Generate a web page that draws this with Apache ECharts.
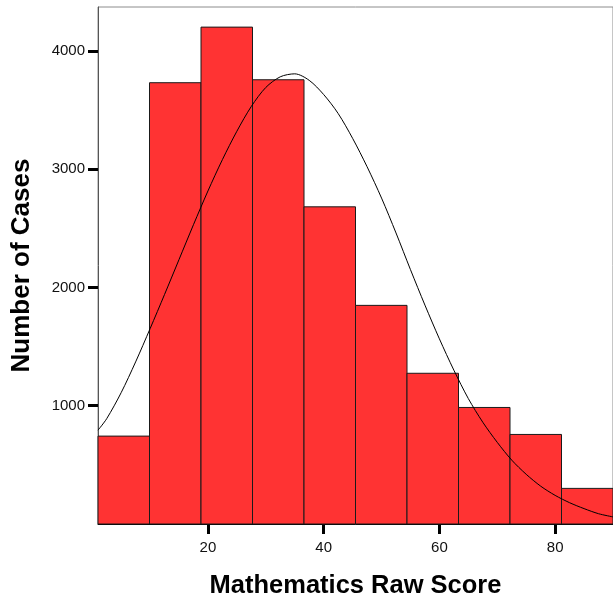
<!DOCTYPE html>
<html>
<head>
<meta charset="utf-8">
<script src="https://cdn.jsdelivr.net/npm/echarts@6/dist/echarts.min.js"></script>
<style>
html,body{margin:0;padding:0;background:#fff;}
#chart{width:613px;height:609px;}
</style>
</head>
<body>
<div id="chart"></div>
<script>
// Histogram bins (Mathematics Raw Score) and counts
const binEdges = [1, 9.9, 18.8, 27.7, 36.6, 45.5, 54.4, 63.3, 72.2, 81.1, 90];
const counts = [743, 3730, 4200, 3755, 2681, 1848, 1274, 985, 757, 301];

// Normal curve
const curveX = [1, 2.5, 5, 7.5, 10, 12.5, 15, 17.5, 20, 22.5, 25, 27.5, 30, 32.5, 35, 37.5, 40, 42.5, 45, 47.5, 50, 52.5, 55, 57.5, 60, 62.5, 65, 67.5, 70, 72.5, 75, 77.5, 80, 82.5, 85, 87.5, 90];
const curveY = [793, 890, 1110, 1370, 1651, 1940, 2235, 2530, 2815, 3080, 3320, 3530, 3690, 3780, 3805, 3750, 3630, 3470, 3260, 3020, 2755, 2460, 2150, 1850, 1565, 1300, 1060, 860, 690, 540, 420, 320, 242, 180, 130, 87, 60];

const xTicks = [20, 40, 60, 80];
const yTicks = [1000, 2000, 3000, 4000];

const histData = counts.map((c, i) => [binEdges[i], binEdges[i + 1], c]);
const curveData = curveX.map((x, i) => [x, curveY[i]]);

const chart = echarts.init(document.getElementById('chart'), null, {renderer: 'canvas'});
const font = '"Liberation Sans", Arial, sans-serif';
chart.setOption({
  animation: false,
  backgroundColor: '#ffffff',
  grid: {
    left: 98, top: 7, right: 0, bottom: 85,
    show: true, borderColor: '#8c8c8c', borderWidth: 1, backgroundColor: 'transparent'
  },
  xAxis: {
    type: 'value', min: 1, max: 90,
    name: 'Mathematics Raw Score', nameLocation: 'middle', nameGap: 49,
    nameTextStyle: {fontFamily: font, fontSize: 25.5, fontWeight: 'bold', color: '#000'},
    axisLine: {show: true, onZero: false, lineStyle: {color: '#000', width: 1}},
    axisTick: {show: true, length: 10, customValues: xTicks, lineStyle: {color: '#000', width: 3}},
    axisLabel: {customValues: xTicks, margin: 16, fontFamily: font, fontSize: 15, color: '#111',
      formatter: v => String(v)},
    splitLine: {show: false}
  },
  yAxis: {
    type: 'value', min: 0, max: 4370,
    name: 'Number of Cases', nameLocation: 'middle', nameGap: 63,
    nameTextStyle: {fontFamily: font, fontSize: 26, fontWeight: 'bold', color: '#000'},
    axisLine: {show: true, lineStyle: {color: '#555', width: 1}},
    axisTick: {show: true, length: 10, customValues: yTicks, lineStyle: {color: '#000', width: 3}},
    axisLabel: {customValues: yTicks, margin: 13, fontFamily: font, fontSize: 15, color: '#111',
      formatter: v => String(v)},
    splitLine: {show: false}
  },
  series: [
    {
      type: 'custom',
      data: histData,
      encode: {x: [0, 1], y: 2},
      renderItem: function (params, api) {
        const p0 = api.coord([api.value(0), api.value(2)]);
        const p1 = api.coord([api.value(1), 0]);
        return {
          type: 'rect',
          shape: {x: p0[0], y: p0[1], width: p1[0] - p0[0], height: p1[1] - p0[1]},
          style: {fill: '#FF3333', stroke: '#1a1a1a', lineWidth: 1}
        };
      },
      z: 2
    },
    {
      type: 'line',
      data: curveData,
      smooth: 0.3,
      symbol: 'none',
      clip: true,
      lineStyle: {color: '#000', width: 1},
      z: 3
    }
  ]
});
</script>
</body>
</html>
